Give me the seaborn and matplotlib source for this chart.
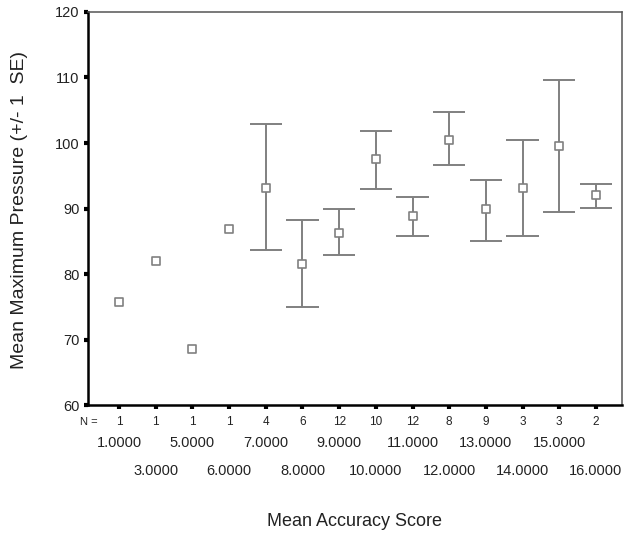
import numpy as np
import pandas as pd
import matplotlib
matplotlib.use("Agg")
import matplotlib.pyplot as plt
import seaborn as sns

# Accuracy score groups, group sizes and mean pressure (+/- 1 SE)
score_labels = ["1.0000", "3.0000", "5.0000", "6.0000", "7.0000", "8.0000", "9.0000",
                "10.0000", "11.0000", "12.0000", "13.0000", "14.0000", "15.0000", "16.0000"]
n_counts = [1, 1, 1, 1, 4, 6, 12, 10, 12, 8, 9, 3, 3, 2]
mean_pressure = [75.8, 82.0, 68.5, 86.8, 93.2, 81.5, 86.2, 97.6, 88.8, 100.5, 89.9, 93.2, 99.5, 92.0]
se_lower = [np.nan, np.nan, np.nan, np.nan, 83.6, 74.9, 82.9, 93.0, 85.8, 96.6, 85.1, 85.8, 89.4, 90.1]
se_upper = [np.nan, np.nan, np.nan, np.nan, 102.9, 88.3, 89.9, 101.8, 91.7, 104.7, 94.4, 100.5, 109.6, 93.8]

df = pd.DataFrame({
    "pos": np.arange(len(score_labels)),
    "score": score_labels,
    "n": n_counts,
    "mean": mean_pressure,
    "lo": se_lower,
    "hi": se_upper,
})

sns.set_style("white")
plt.rcParams["font.family"] = ["Liberation Sans", "DejaVu Sans"]

mark_color = "#808080"
text_color = "#222222"

fig = plt.figure(figsize=(6.25, 5.38), dpi=100)
ax = fig.add_axes([0.1408, 0.2472, 0.8544, 0.7305])

# error bars (only groups with more than one case)
eb = df.dropna()
ax.vlines(eb["pos"], eb["lo"], eb["hi"], color=mark_color, lw=1.4, zorder=2)
cap = 0.44
ax.hlines(eb["lo"], eb["pos"] - cap, eb["pos"] + cap, color=mark_color, lw=1.4, zorder=2)
ax.hlines(eb["hi"], eb["pos"] - cap, eb["pos"] + cap, color=mark_color, lw=1.4, zorder=2)

# group means as open squares
sns.scatterplot(data=df, x="pos", y="mean", marker="s", s=36, facecolor="white",
                edgecolor=mark_color, linewidth=1.2, zorder=3, ax=ax, legend=False)

ax.set_xlim(-0.845, 13.71)
ax.set_ylim(60, 120)
ax.set_yticks([60, 70, 80, 90, 100, 110, 120])
ax.set_xticks(df["pos"])
ax.set_xticklabels([])
ax.tick_params(axis="y", length=3, width=3, color="black", labelsize=10.5, pad=3,
               left=True, labelcolor=text_color)
ax.tick_params(axis="x", length=3, width=3, color="black", bottom=True, direction="out")
ax.set_xlabel("")
ax.set_ylabel("")

for side in ["left", "bottom"]:
    ax.spines[side].set_color("black")
    ax.spines[side].set_linewidth(1.8)
for side in ["top", "right"]:
    ax.spines[side].set_color("#555555")
    ax.spines[side].set_linewidth(1.1)

# N row and staggered score labels below the axis
trans = ax.get_xaxis_transform()
ax.annotate("N =", xy=(-0.845, 0), xycoords=trans, xytext=(1, -17),
            textcoords="offset pixels", ha="center", va="center", fontsize=8, color=text_color)
for i, row in df.iterrows():
    ax.annotate(str(row["n"]), xy=(row["pos"], 0), xycoords=trans, xytext=(0, -17),
                textcoords="offset pixels", ha="center", va="center", fontsize=8.5,
                color=text_color)
    dy = -38 if i % 2 == 0 else -66
    ax.annotate(row["score"], xy=(row["pos"], 0), xycoords=trans, xytext=(0, dy),
                textcoords="offset pixels", ha="center", va="center", fontsize=10.5,
                color=text_color)

fig.text(355 / 625, 1 - 522 / 538, "Mean Accuracy Score", ha="center", va="center",
         fontsize=13, color=text_color)
fig.text(20 / 625, 1 - 210 / 538, "Mean Maximum Pressure (+/- 1  SE)", ha="center",
         va="center", rotation=90, fontsize=14, color=text_color)

fig.savefig("out.png", dpi=100)
